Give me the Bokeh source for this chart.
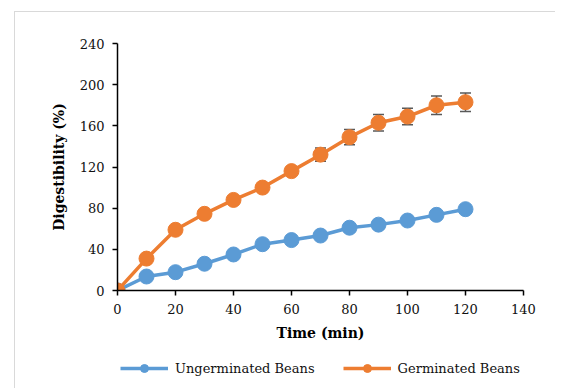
from bokeh.plotting import figure
from bokeh.layouts import column
from bokeh.models import ColumnDataSource, Whisker, Legend, LegendItem, FixedTicker, Range1d
from bokeh.embed import file_html
from bokeh.resources import INLINE

time_min = [0, 10, 20, 30, 40, 50, 60, 70, 80, 90, 100, 110, 120]
ungerminated = [0, 13.6, 17.8, 26, 35, 45, 49, 53.4, 61, 64, 68, 73.5, 79]
germinated = [0, 31, 59, 74.5, 88, 100, 116, 132, 149, 163, 169, 180, 183]
germinated_err = [0, 1, 1.5, 2, 2, 2.5, 4, 6.5, 7.5, 8, 8, 9, 9]
x_ticks = [0, 20, 40, 60, 80, 100, 120, 140]
y_ticks = [0, 40, 80, 120, 160, 200, 240]
series_names = ["Ungerminated Beans", "Germinated Beans"]

BLUE = "#5B9BD5"
ORANGE = "#ED7D31"
FONT = "'DejaVu Serif', serif"

src_u = ColumnDataSource(dict(x=time_min, y=ungerminated))
src_g = ColumnDataSource(dict(
    x=time_min, y=germinated,
    lower=[v - e for v, e in zip(germinated, germinated_err)],
    upper=[v + e for v, e in zip(germinated, germinated_err)],
))

p = figure(
    frame_width=406, frame_height=247,
    x_range=Range1d(0, 140), y_range=Range1d(0, 240),
    output_backend="svg", toolbar_location=None,
    min_border_left=102, min_border_right=32, min_border_top=31, min_border_bottom=62,
)
p.outline_line_color = None
p.grid.visible = False
p.background_fill_color = "white"
p.border_fill_color = "white"

for ax in (p.xaxis[0], p.yaxis[0]):
    ax.axis_line_color = "black"
    ax.axis_line_width = 1.5
    ax.major_tick_line_color = "black"
    ax.major_tick_line_width = 1.5
    ax.major_tick_out = 5
    ax.major_tick_in = 0
    ax.minor_tick_line_color = None
    ax.major_label_text_font = FONT
    ax.major_label_text_font_size = "13px"
    ax.major_label_text_color = "#111111"
    ax.axis_label_text_font = FONT
    ax.axis_label_text_font_size = "14px"
    ax.axis_label_text_font_style = "bold"
    ax.axis_label_text_color = "black"

p.xaxis.ticker = FixedTicker(ticks=x_ticks)
p.yaxis.ticker = FixedTicker(ticks=y_ticks)
p.xaxis.axis_label = "Time (min)"
p.yaxis.axis_label = "Digestibility (%)"
p.xaxis.major_label_standoff = 8
p.yaxis.major_label_standoff = 8
p.xaxis.axis_label_standoff = 8
p.yaxis.axis_label_standoff = 10

def draw_series(fig, src, color):
    ln = fig.line("x", "y", source=src, line_color=color, line_width=3.5)
    sc = fig.scatter("x", "y", source=src, size=15, fill_color=color, line_color=color)
    return ln, sc

lu, su = draw_series(p, src_u, BLUE)
lg, sg = draw_series(p, src_g, ORANGE)

wh = Whisker(source=src_g, base="x", lower="lower", upper="upper",
             line_color="#595959", line_width=1.5)
for head in (wh.upper_head, wh.lower_head):
    head.line_color = "#595959"
    head.line_width = 1.5
    head.size = 11
p.add_layout(wh)

# legend strip below the chart (its renderers are out of view, used only for legend glyphs)
pl = figure(
    width=540, height=36,
    x_range=Range1d(-1000, -999), y_range=Range1d(-1000, -999),
    output_backend="svg", toolbar_location=None,
    x_axis_location=None, y_axis_location=None,
    min_border_left=102, min_border_right=32, min_border_top=0, min_border_bottom=0,
)
pl.outline_line_color = None
pl.grid.visible = False
plu, plsu = draw_series(pl, src_u, BLUE)
plg, plsg = draw_series(pl, src_g, ORANGE)

legend = Legend(items=[
    LegendItem(label=series_names[0], renderers=[plu, plsu]),
    LegendItem(label=series_names[1], renderers=[plg, plsg]),
], orientation="horizontal", location=(3, 10))
legend.border_line_color = None
legend.background_fill_alpha = 0
legend.label_text_font = FONT
legend.label_text_font_size = "13px"
legend.label_text_color = "#111111"
legend.glyph_width = 48
legend.glyph_height = 20
legend.label_standoff = 7
legend.spacing = 28
legend.margin = 0
legend.padding = 0
pl.add_layout(legend)

layout = column(p, pl, spacing=0)
layout.margin = (11, 0, 0, 14)
layout.styles = {"border-left": "1px solid #d9d9d9", "border-top": "1px solid #d9d9d9"}

open("out.html", "w").write(file_html(layout, INLINE))
